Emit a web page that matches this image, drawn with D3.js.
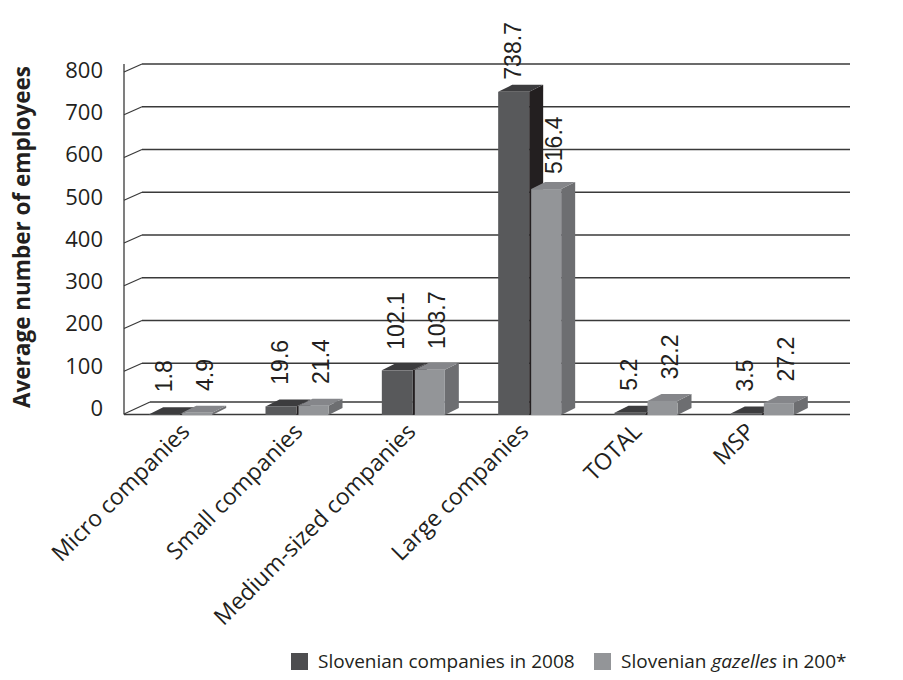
<!DOCTYPE html>
<html>
<head>
<meta charset="utf-8">
<script src="https://cdn.jsdelivr.net/npm/d3@7"></script>
<style>
  body { margin: 0; background: #fff; }
  text { font-family: "Open Sans", sans-serif; fill: #231f20; }
</style>
</head>
<body>
<div id="chart"></div>
<script>
var categories = ['Micro companies', 'Small companies', 'Medium-sized companies', 'Large companies', 'TOTAL', 'MSP'];
var series = ['Slovenian companies in 2008', 'Slovenian gazelles in 200*'];
var companies2008 = [1.8, 19.6, 102.1, 738.7, 5.2, 3.5];
var gazelles = [4.9, 21.4, 103.7, 516.4, 32.2, 27.2];
var yTicks = [0, 100, 200, 300, 400, 500, 600, 700, 800];

var width = 903, height = 680;
var dx = 14, dy = 7;          // depth of bars
var wallDx = 18, wallDy = 8;  // depth of the back wall

var svg = d3.select('#chart').append('svg')
  .attr('width', width)
  .attr('height', height);

// back wall scale, tick label scale, bar scale
var yBack = d3.scaleLinear().domain([0, 800]).range([406, 64]);
var yLab = d3.scaleLinear().domain([0, 800]).range([408, 70]);
var yBar = d3.scaleLinear().domain([0, 800]).range([415, 65]);

var x = d3.scaleBand().domain(categories).range([122, 820]);
// category labels sit on a slightly shorter axis (perspective)
var xLab = d3.scalePoint().domain(categories).range([191, 756]);

var colors = {
  front: ['#58595b', '#939598'],
  side: ['#231f20', '#6d6e71'],
  top: ['#3c3c3e', '#85868a']
};

// gridlines on back wall
var grid = svg.append('g').attr('stroke', '#3a3a3a').attr('stroke-width', 1.3).attr('fill', 'none');
grid.selectAll('line.g')
  .data(yTicks.filter(function(d) { return d > 0; }))
  .enter().append('line')
  .attr('x1', 124 + wallDx).attr('x2', 850)
  .attr('y1', function(d) { return yBack(d); })
  .attr('y2', function(d) { return yBack(d); });
grid.selectAll('line.d')
  .data(yTicks.filter(function(d) { return d > 0; }))
  .enter().append('line')
  .attr('x1', 124).attr('x2', 124 + wallDx)
  .attr('y1', function(d) { return yBack(d) + wallDy; })
  .attr('y2', function(d) { return yBack(d); });
// floor
grid.append('line').attr('x1', 150).attr('x2', 850).attr('y1', 402).attr('y2', 402);
grid.append('line').attr('x1', 124).attr('x2', 150).attr('y1', 414).attr('y2', 402);
grid.append('line').attr('x1', 124).attr('x2', 850).attr('y1', 414.5).attr('y2', 414.5);
grid.append('line').attr('x1', 124).attr('x2', 124).attr('y1', yBack(800)).attr('y2', 414.5);

// tick labels
svg.append('g').selectAll('text')
  .data(yTicks)
  .enter().append('text')
  .attr('x', 103)
  .attr('y', function(d) { return yLab(d); })
  .attr('dy', '0.36em')
  .attr('text-anchor', 'end')
  .style('font-size', '22px')
  .text(function(d) { return d; });

svg.append('text')
  .attr('transform', 'translate(30,237) rotate(-90)')
  .attr('text-anchor', 'middle')
  .style('font-size', '22.5px')
  .style('font-weight', 'bold')
  .text('Average number of employees');

// bars
var values = [companies2008, gazelles];
var bars = [];
categories.forEach(function(c, i) {
  series.forEach(function(s, j) {
    bars.push({ cat: c, s: j, v: values[j][i] });
  });
});

var barW = 31;
function bx(d) {
  var c = x(d.cat) + x.bandwidth() / 2;
  return d.s === 0 ? c - barW : c + 2;
}

var bg = svg.append('g');
bars.forEach(function(d) {
  var x0 = bx(d), w = d.s === 0 ? barW : barW - 1;
  var y0 = yBar(d.v), yb = yBar(0);
  var g = bg.append('g');
  g.append('path')
    .attr('d', 'M' + (x0 + w) + ',' + yb + 'L' + (x0 + w + dx) + ',' + (yb - dy) +
      'L' + (x0 + w + dx) + ',' + (y0 - dy) + 'L' + (x0 + w) + ',' + y0 + 'Z')
    .attr('fill', colors.side[d.s]);
  g.append('path')
    .attr('d', 'M' + x0 + ',' + y0 + 'L' + (x0 + dx) + ',' + (y0 - dy) +
      'L' + (x0 + w + dx) + ',' + (y0 - dy) + 'L' + (x0 + w) + ',' + y0 + 'Z')
    .attr('fill', colors.top[d.s]);
  g.append('rect')
    .attr('x', x0).attr('y', y0)
    .attr('width', w).attr('height', yb - y0)
    .attr('fill', colors.front[d.s]);
});

// value labels
svg.append('g').selectAll('text')
  .data(bars)
  .enter().append('text')
  .attr('transform', function(d) {
    var cx = bx(d) + barW / 2 + (d.s === 1 ? 7 : -1) + 8;
    var off = 22 - d.v / 75;
    return 'translate(' + cx + ',' + (yBar(d.v) - off) + ') rotate(-90)';
  })
  .style('font-family', '"Liberation Sans", Arial, sans-serif')
  .style('font-size', '23px')
  .text(function(d) { return d.v.toFixed(1); });

// category labels
svg.append('g').selectAll('text')
  .data(categories)
  .enter().append('text')
  .attr('transform', function(d) {
    return 'translate(' + xLab(d) + ',433) rotate(-45)';
  })
  .attr('text-anchor', 'end')
  .style('font-size', '23px')
  .text(function(d) { return d; });

// legend
var lg = svg.append('g');
var legX = [291, 594];
series.forEach(function(s, j) {
  lg.append('rect')
    .attr('x', legX[j]).attr('y', 653)
    .attr('width', 17).attr('height', 17)
    .attr('fill', j === 0 ? '#4d4d4f' : '#939598');
  var t = lg.append('text')
    .attr('x', legX[j] + 27).attr('y', 661)
    .attr('dy', '0.36em')
    .style('font-size', '19px');
  if (j === 0) {
    t.text(s);
  } else {
    t.append('tspan').text('Slovenian ');
    t.append('tspan').style('font-style', 'italic').text('gazelles');
    t.append('tspan').text(' in 200*');
  }
});
</script>
</body>
</html>
